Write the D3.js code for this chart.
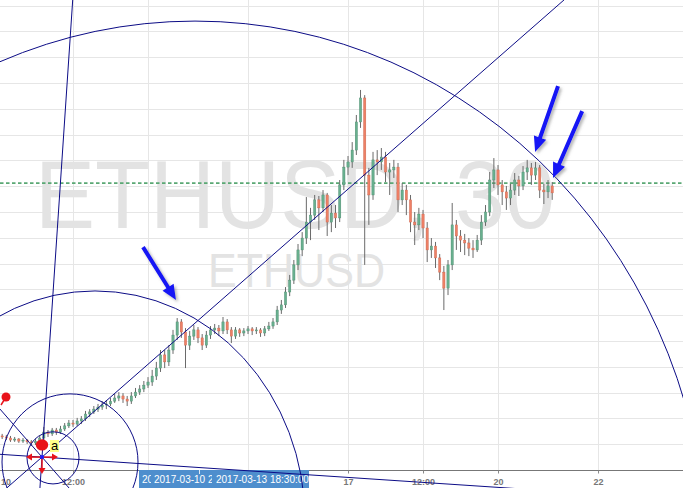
<!DOCTYPE html>
<html>
<head>
<meta charset="utf-8">
<script src="https://cdn.jsdelivr.net/npm/d3@7"></script>
<style>
  body { margin: 0; background: #fff; }
  svg { display: block; font-family: "Liberation Sans", Arial, sans-serif; }
</style>
</head>
<body>
<svg id="chart" width="683" height="488"></svg>
<script>

// ETHUSD 30 min candles (one entry per bar)
var opens = [
  18.32, 18.28, 18.24, 18.16, 18.20, 18.12, 18.16, 18.09, 18.05, 18.12, 18.24, 18.47,
  18.40, 18.55, 18.47, 18.59, 18.71, 18.82, 18.78, 18.90, 18.98, 19.17, 19.25, 19.36,
  19.44, 19.52, 19.56, 19.67, 19.79, 19.87, 19.75, 19.67, 19.87, 20.02, 20.14, 20.29,
  20.41, 20.64, 20.95, 21.46, 21.19, 21.65, 22.23, 22.74, 22.35, 21.84, 22.19, 22.43,
  22.12, 21.84, 22.23, 22.43, 22.50, 22.39, 22.74, 22.43, 22.19, 22.43, 22.31, 22.39,
  22.47, 22.39, 22.43, 22.31, 22.47, 22.58, 22.74, 23.20, 23.40, 23.90, 24.36, 24.95,
  25.53, 25.99, 26.61, 26.88, 27.47, 27.16, 27.66, 26.61, 26.96, 26.77, 28.05, 28.74,
  28.94, 29.40, 30.49, 31.42, 28.43, 27.66, 29.02, 28.94, 29.13, 28.55, 28.63, 28.74,
  27.47, 27.85, 27.47, 26.61, 26.50, 26.92, 26.38, 25.53, 25.68, 25.22, 24.67, 24.05,
  24.95, 26.50, 26.07, 25.91, 25.80, 25.60, 25.53, 25.91, 26.61, 27.00, 28.24, 28.63,
  28.05, 27.78, 27.54, 27.85, 28.24, 28.01, 28.55, 28.71, 28.43, 28.71, 27.85, 27.78, 28.01
];
var highs = [
  18.40, 18.36, 18.32, 18.28, 18.24, 18.24, 18.20, 18.16, 18.20, 18.32, 18.67, 18.55,
  18.63, 18.63, 18.71, 18.82, 18.94, 18.94, 19.02, 19.09, 19.29, 19.36, 19.48, 19.56,
  19.67, 19.71, 19.79, 19.95, 20.02, 19.98, 19.87, 20.02, 20.18, 20.29, 20.45, 20.60,
  20.88, 21.19, 21.65, 21.65, 21.84, 22.43, 22.89, 22.85, 22.50, 22.39, 22.62, 22.54,
  22.27, 22.39, 22.58, 22.66, 22.62, 22.93, 22.85, 22.54, 22.54, 22.50, 22.50, 22.58,
  22.54, 22.54, 22.50, 22.58, 22.74, 22.89, 23.36, 23.59, 24.09, 24.56, 25.14, 25.76,
  26.22, 27.58, 27.16, 27.66, 27.62, 27.85, 27.74, 27.27, 27.27, 28.24, 29.02, 29.17,
  29.71, 30.76, 31.73, 31.53, 28.71, 29.33, 29.40, 29.48, 29.33, 28.90, 29.02, 28.90,
  28.12, 28.05, 27.66, 27.00, 27.16, 27.08, 26.61, 25.99, 25.84, 25.37, 24.91, 25.14,
  27.35, 26.69, 26.30, 26.15, 25.99, 25.91, 26.11, 26.88, 27.27, 28.55, 29.09, 28.82,
  28.24, 28.01, 28.09, 28.51, 28.40, 28.78, 29.02, 28.90, 28.94, 28.82, 28.09, 28.24, 28.16
];
var lows = [
  18.20, 18.16, 18.09, 18.09, 18.05, 18.05, 18.01, 17.93, 17.97, 18.05, 18.16, 18.28,
  18.32, 18.36, 18.40, 18.51, 18.63, 18.67, 18.71, 18.78, 18.90, 19.05, 19.17, 19.25,
  19.33, 19.36, 19.48, 19.60, 19.67, 19.60, 19.48, 19.56, 19.79, 19.91, 20.02, 20.18,
  20.26, 20.49, 20.80, 20.95, 21.03, 21.50, 22.04, 22.12, 20.95, 21.65, 22.04, 21.92,
  21.65, 21.73, 22.08, 22.27, 22.19, 22.27, 22.27, 21.92, 22.08, 22.16, 22.19, 22.27,
  22.23, 22.27, 22.16, 22.19, 22.39, 22.47, 22.62, 23.05, 23.28, 23.74, 24.21, 24.75,
  25.29, 25.76, 25.91, 26.69, 26.30, 27.00, 26.07, 26.22, 26.38, 26.61, 27.85, 28.43,
  28.71, 29.21, 30.26, 24.95, 26.50, 27.47, 28.43, 28.63, 28.16, 27.66, 28.32, 27.00,
  27.27, 26.88, 26.22, 25.72, 26.30, 25.99, 25.06, 25.22, 24.83, 24.36, 23.20, 23.78,
  24.75, 25.53, 25.45, 25.33, 25.29, 25.22, 25.45, 25.72, 26.46, 26.84, 27.93, 27.66,
  27.27, 27.08, 27.27, 27.66, 27.62, 27.85, 28.24, 28.05, 28.24, 27.54, 27.31, 27.54, 27.47
];
var closes = [
  18.28, 18.24, 18.16, 18.20, 18.12, 18.16, 18.09, 18.05, 18.12, 18.24, 18.47, 18.40,
  18.55, 18.47, 18.59, 18.71, 18.82, 18.78, 18.90, 18.98, 19.17, 19.25, 19.36, 19.44,
  19.52, 19.56, 19.67, 19.79, 19.87, 19.75, 19.67, 19.87, 20.02, 20.14, 20.29, 20.41,
  20.64, 20.95, 21.46, 21.19, 21.65, 22.23, 22.74, 22.35, 21.84, 22.19, 22.43, 22.12,
  21.84, 22.23, 22.43, 22.50, 22.39, 22.74, 22.43, 22.19, 22.43, 22.31, 22.39, 22.47,
  22.39, 22.43, 22.31, 22.47, 22.58, 22.74, 23.20, 23.40, 23.90, 24.36, 24.95, 25.53,
  25.99, 26.61, 26.88, 27.47, 27.16, 27.66, 26.61, 26.96, 26.77, 28.05, 28.74, 28.94,
  29.40, 30.49, 31.42, 28.43, 27.66, 29.02, 28.94, 29.13, 28.55, 28.63, 28.74, 27.47,
  27.85, 27.47, 26.61, 26.50, 26.92, 26.38, 25.53, 25.68, 25.22, 24.67, 24.05, 24.95,
  26.50, 26.07, 25.91, 25.80, 25.60, 25.53, 25.91, 26.61, 27.00, 28.24, 28.63, 28.05,
  27.78, 27.54, 27.85, 28.24, 28.01, 28.55, 28.71, 28.43, 28.71, 27.85, 27.78, 28.01, 27.74
];

// time axis (bar index) and its labels
var tickIndex = [-1, 17, 35, 59, 83, 101, 119, 143];
var tickLabels = ["10", "12:00", "", "", "17", "12:00", "20", "22"];
var priceGrid = [18, 19, 20, 21, 22, 23, 24, 25, 26, 27, 28, 29, 30, 31, 32, 33, 34, 35];

// horizontal level (dotted green)
var levelPrice = 28.12;

// drawing tool anchored at (bar index, price)
var center = { i: 9.56, p: 17.5 };
var rayPoints = [
  { i: 16.93, p: 35.22 },   // near vertical
  { i: 134.84, p: 35.22 },  // up diagonal
  { i: 163.4, p: 15.85 },   // near horizontal
  { i: -0.52, p: 19.36 }    // down diagonal
];
var arcs = [
  { i: 12.20, p: 17.47, ri: 6.24, rp: 1.01 },
  { i: 16.28, p: 17.31, ri: 16.32, rp: 2.64 },
  { i: 22.28, p: 15.06, ri: 50.4, rp: 8.88 },
  { i: 46.28, p: 13.51, ri: 122.9, rp: 20.89 }
];
var handleDot = { i: 0.92, p: 19.83 };
var handleDotEnd = { i: -0.28, p: 19.52 };
var labelDot = { i: 9.56, p: 17.97 };

// blue arrows (tail -> tip)
var arrows = [
  { ti: 33.8, tp: 25.64, hi: 41.72, hp: 23.59 },
  { ti: 133.4, tp: 31.88, hi: 127.9, hp: 29.33 },
  { ti: 139.2, tp: 30.91, hi: 132.2, hp: 28.32 }
];

var width = 683;
var height = 488;
var axisY = 470;

var svg = d3.select("#chart");

var x = d3.scaleLinear().domain([0, 132]).range([2.17, 552.2]);
var y = d3.scaleLinear().domain([17, 35]).range([axisY, 5.6]);

// shadow for the blue arrows
var defs = svg.append("defs");
var shadow = defs.append("filter").attr("id", "shadow")
  .attr("x", "-50%").attr("y", "-50%").attr("width", "200%").attr("height", "200%");
shadow.append("feDropShadow")
  .attr("dx", 2).attr("dy", 2).attr("stdDeviation", 1.6)
  .attr("flood-color", "#777").attr("flood-opacity", 0.55);

defs.append("clipPath").attr("id", "boxclip")
  .append("rect").attr("x", 139).attr("y", axisY).attr("width", 170).attr("height", 18);

svg.append("rect").attr("width", width).attr("height", height).attr("fill", "#fff");

// grid
svg.append("g").selectAll("line").data(priceGrid).join("line")
  .attr("x1", 0).attr("x2", width)
  .attr("y1", function (d) { return Math.round(y(d)) + 0.5; })
  .attr("y2", function (d) { return Math.round(y(d)) + 0.5; })
  .attr("stroke", "#e6e6e6").attr("stroke-width", 1);

svg.append("g").selectAll("line").data(tickIndex.slice(1)).join("line")
  .attr("x1", function (d) { return Math.round(x(d)) + 0.5; })
  .attr("x2", function (d) { return Math.round(x(d)) + 0.5; })
  .attr("y1", 0).attr("y2", axisY)
  .attr("stroke", "#e6e6e6").attr("stroke-width", 1);

// watermark
svg.append("text")
  .attr("x", 35).attr("y", 228)
  .attr("font-size", 96)
  .attr("textLength", 520).attr("lengthAdjust", "spacingAndGlyphs")
  .attr("fill", "#e3e3e3")
  .text("ETHUSD, 30");

svg.append("text")
  .attr("x", 208).attr("y", 287)
  .attr("font-size", 48)
  .attr("textLength", 177).attr("lengthAdjust", "spacingAndGlyphs")
  .attr("fill", "#e3e3e3")
  .text("ETHUSD");

// dotted level line
svg.append("line")
  .attr("x1", 0).attr("x2", width)
  .attr("y1", y(levelPrice)).attr("y2", y(levelPrice))
  .attr("stroke", "#5aa874").attr("stroke-width", 1.6)
  .attr("stroke-dasharray", "3.5,2.5");

// candles
var bars = d3.range(closes.length);
var candles = svg.append("g");

candles.selectAll("line").data(bars).join("line")
  .attr("x1", function (i) { return x(i); })
  .attr("x2", function (i) { return x(i); })
  .attr("y1", function (i) { return y(highs[i]); })
  .attr("y2", function (i) { return y(lows[i]); })
  .attr("stroke", "#6a6a6a").attr("stroke-width", 1);

candles.selectAll("rect").data(bars).join("rect")
  .attr("x", function (i) { return x(i) - 1.15; })
  .attr("width", 2.3)
  .attr("y", function (i) { return y(Math.max(opens[i], closes[i])); })
  .attr("height", function (i) { return Math.max(1, Math.abs(y(opens[i]) - y(closes[i]))); })
  .attr("fill", function (i) { return closes[i] >= opens[i] ? "#68b08f" : "#ee8066"; })
  .attr("stroke", function (i) { return closes[i] >= opens[i] ? "#4f8a6f" : "#c9664f"; })
  .attr("stroke-width", 0.4);

// time axis
svg.append("line")
  .attr("x1", 0).attr("x2", width)
  .attr("y1", axisY + 0.5).attr("y2", axisY + 0.5)
  .attr("stroke", "#777").attr("stroke-width", 1);

var xAxis = d3.axisBottom(x)
  .tickValues(tickIndex)
  .tickFormat(function (d, k) { return tickLabels[k]; })
  .tickSize(3)
  .tickPadding(5);

var axisG = svg.append("g").attr("transform", "translate(0," + (axisY + 0.5) + ")").call(xAxis);
axisG.select(".domain").remove();
axisG.selectAll(".tick line").attr("stroke", "#888");
axisG.selectAll(".tick text")
  .attr("font-size", 9).attr("font-weight", "bold")
  .attr("font-family", "Liberation Sans, Arial, sans-serif")
  .attr("fill", "#777");
// first label sits at the left edge: keep it inside the picture
axisG.selectAll(".tick text").filter(function (d) { return d === tickIndex[0]; })
  .attr("text-anchor", "start")
  .attr("x", -x(tickIndex[0]) + 0.5);

// crosshair date labels (overlapping boxes)
var box = svg.append("g").attr("clip-path", "url(#boxclip)");
var boxes = [
  { x: 139, text: "20", tx: 142 },
  { x: 151, text: "2017-03-10 2", tx: 154 },
  { x: 212, text: "2017-03-13 18:30:00", tx: 216 }
];
boxes.forEach(function (b) {
  box.append("rect").attr("x", b.x).attr("y", axisY).attr("width", 170).attr("height", 18)
    .attr("fill", "#4e8ecd");
  box.append("text").attr("x", b.tx).attr("y", 483)
    .attr("font-size", 10).attr("fill", "#fff").text(b.text);
});
box.append("line").attr("x1", 199.5).attr("x2", 199.5).attr("y1", axisY).attr("y2", axisY + 4)
  .attr("stroke", "#dfe9f5");

// drawing tool: rays through the center
var navy = "#0c0c86";
var cx = x(center.i);
var cy = y(center.p);
var line = d3.line();

rayPoints.forEach(function (pt) {
  var dx = x(pt.i) - cx;
  var dy = y(pt.p) - cy;
  var k = 2000 / Math.hypot(dx, dy);
  var path = svg.append("path");
  path.attr("d", line([[cx - dx * k, cy - dy * k], [cx + dx * k, cy + dy * k]]));
  path.attr("stroke", navy);
  path.attr("stroke-width", 1);
  path.attr("fill", "none");
});

// arcs
svg.append("g").selectAll("ellipse").data(arcs).join("ellipse")
  .attr("cx", function (d) { return x(d.i); })
  .attr("cy", function (d) { return y(d.p); })
  .attr("rx", function (d) { return x(d.i + d.ri) - x(d.i); })
  .attr("ry", function (d) { return y(d.p) - y(d.p + d.rp); })
  .attr("fill", "none").attr("stroke", navy).attr("stroke-width", 1);

// handles
var red = "#e8121a";
svg.append("line")
  .attr("x1", x(handleDot.i)).attr("y1", y(handleDot.p))
  .attr("x2", x(handleDotEnd.i)).attr("y2", y(handleDotEnd.p))
  .attr("stroke", red).attr("stroke-width", 1.5);
svg.append("circle").attr("cx", x(handleDot.i)).attr("cy", y(handleDot.p)).attr("r", 4.5).attr("fill", red);

svg.append("ellipse").attr("cx", x(labelDot.i)).attr("cy", y(labelDot.p))
  .attr("rx", 6.2).attr("ry", 5.6).attr("fill", red);
svg.append("rect").attr("x", x(labelDot.i) + 8).attr("y", y(labelDot.p) - 5)
  .attr("width", 9).attr("height", 12).attr("fill", "#ffff8a");
svg.append("text").attr("x", x(labelDot.i) + 9).attr("y", y(labelDot.p) + 5)
  .attr("font-size", 13).attr("fill", "#000").text("a");

// red move-cross at the center
var cross = [[-14, 0], [14, 0], [0, 15]];
cross.forEach(function (c) {
  var ex = cx + c[0], ey = cy + c[1];
  svg.append("line").attr("x1", cx).attr("y1", cy).attr("x2", ex).attr("y2", ey)
    .attr("stroke", red).attr("stroke-width", 1.5);
  var len = Math.hypot(c[0], c[1]);
  var ux = c[0] / len, uy = c[1] / len;
  var tri = [
    [ex + ux * 2, ey + uy * 2],
    [ex - ux * 4 - uy * 3.5, ey - uy * 4 + ux * 3.5],
    [ex - ux * 4 + uy * 3.5, ey - uy * 4 - ux * 3.5]
  ];
  svg.append("path").attr("d", line(tri) + "Z").attr("fill", red);
});
svg.append("circle").attr("cx", cx).attr("cy", cy).attr("r", 2).attr("fill", "#1a1aff");

// blue arrows
var arrowG = svg.append("g").attr("filter", "url(#shadow)");
arrows.forEach(function (a) {
  var x1 = x(a.ti), y1 = y(a.tp), x2 = x(a.hi), y2 = y(a.hp);
  var len = Math.hypot(x2 - x1, y2 - y1);
  var ux = (x2 - x1) / len, uy = (y2 - y1) / len;
  var nx = -uy, ny = ux;
  var headLen = 15, headW = 6.5, shaftW = 2;
  var bx = x2 - ux * headLen, by = y2 - uy * headLen;
  var pts = [
    [x1 + nx * shaftW, y1 + ny * shaftW],
    [bx + nx * shaftW, by + ny * shaftW],
    [bx + nx * headW, by + ny * headW],
    [x2, y2],
    [bx - nx * headW, by - ny * headW],
    [bx - nx * shaftW, by - ny * shaftW],
    [x1 - nx * shaftW, y1 - ny * shaftW]
  ];
  arrowG.append("path").attr("d", line(pts) + "Z").attr("fill", "#1414f5");
});

</script>
</body>
</html>
